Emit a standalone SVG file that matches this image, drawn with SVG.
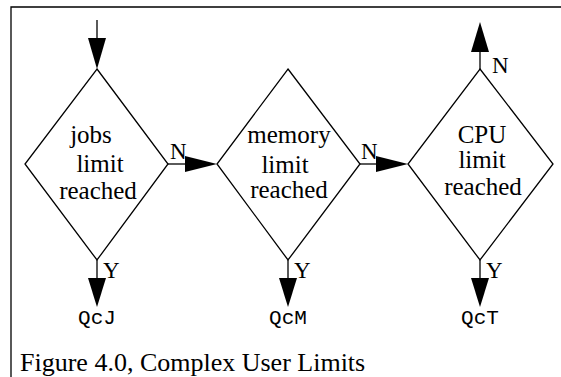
<svg xmlns="http://www.w3.org/2000/svg" width="561" height="377" viewBox="0 0 561 377">
<style>
.sh{fill:none;stroke:#000;stroke-width:1.3}
.ln{stroke:#000;stroke-width:1.3;fill:none}
.hd{fill:#000;stroke:none}
.t{font-family:"Liberation Serif","Times New Roman",serif;font-size:25px;fill:#000;text-anchor:middle}
.lb{font-family:"Liberation Serif","Times New Roman",serif;font-size:23px;fill:#000}
.m{font-family:"Liberation Mono","Courier New",monospace;font-size:21px;fill:#000;text-anchor:middle}
.cap{font-family:"Liberation Serif","Times New Roman",serif;font-size:26px;fill:#000}
</style>
<rect width="561" height="377" fill="#fff"/>
<g id="frame">
<path class="ln" d="M11,377 V7 H561" stroke-width="1.6"/>
</g>
<g id="jobs">
<polygon class="sh" points="97,69 168,164 97,260 25,164"/>
<text class="t" x="91" y="143">jobs</text>
<text class="t" x="100" y="172">limit</text>
<text class="t" x="98" y="199">reached</text>
</g>
<g id="memory">
<polygon class="sh" points="288,69 360,164 288,260 217,164"/>
<text class="t" x="289" y="143">memory</text>
<text class="t" x="285" y="173">limit</text>
<text class="t" x="289" y="198">reached</text>
</g>
<g id="cpu">
<polygon class="sh" points="480,69 553,164 480,260 408,164"/>
<text class="t" x="482" y="143">CPU</text>
<text class="t" x="482" y="168">limit</text>
<text class="t" x="483" y="195">reached</text>
</g>
<g id="qcj"><text class="m" x="97" y="324">QcJ</text></g>
<g id="qcm"><text class="m" x="288" y="324">QcM</text></g>
<g id="qct"><text class="m" x="480" y="324">QcT</text></g>
<g id="connectors">
<path class="ln" d="M97,20 V40"/>
<polygon class="hd" points="88,38 106,38 97,69"/>
<path class="ln" d="M168,164 H187"/>
<polygon class="hd" points="185,156 185,172 217,164"/>
<text class="lb" x="170" y="159">N</text>
<path class="ln" d="M360,164 H378"/>
<polygon class="hd" points="376,156 376,172 408,164"/>
<text class="lb" x="361" y="159">N</text>
<path class="ln" d="M480,69 V50"/>
<polygon class="hd" points="471,52 489,52 480,22"/>
<text class="lb" x="492" y="73">N</text>
<path class="ln" d="M97,260 V280"/>
<polygon class="hd" points="88,278 106,278 97,307"/>
<text class="lb" x="103" y="278">Y</text>
<path class="ln" d="M288,260 V280"/>
<polygon class="hd" points="279,278 297,278 288,307"/>
<text class="lb" x="294" y="278">Y</text>
<path class="ln" d="M480,260 V280"/>
<polygon class="hd" points="471,278 489,278 480,307"/>
<text class="lb" x="486" y="278">Y</text>
</g>
<g id="caption"><text class="cap" x="20" y="371">Figure 4.0, Complex User Limits</text></g>
</svg>
